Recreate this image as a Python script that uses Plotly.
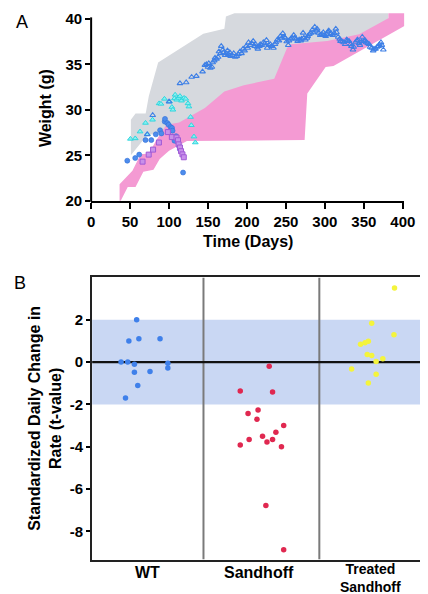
import plotly.graph_objects as go

W, H = 428, 594

# ---------------- Panel A data ----------------
# gray band (WT range) polygon: upper edge then lower edge
gray_upper_days = [51, 51, 57, 70, 74, 86, 144, 171, 173, 184, 381]
gray_upper_g = [25.0, 28.9, 29.6, 29.6, 31.5, 35.2, 38.35, 38.9, 40.25, 40.6, 40.6]
gray_lower_days = [51, 70, 78, 92, 97, 113, 146, 171, 235, 251, 303, 344, 381]
gray_lower_g = [25.0, 27.0, 27.3, 27.4, 28.0, 28.3, 29.8, 31.6, 33.0, 36.4, 37.2, 38.0, 39.8]

# pink band (Sandhoff range) polygon
pink_upper_days = [36.5, 53, 63.6, 74, 84, 90, 96.6, 113, 146, 171, 196, 235, 251.4, 256, 303, 344, 381.4, 381.4, 402]
pink_upper_g = [21.8, 23.3, 25.1, 25.2, 26.7, 27.45, 28.35, 28.6, 30.2, 32.0, 32.7, 33.4, 36.8, 37.2, 37.55, 38.3, 40.07, 40.6, 40.6]
pink_lower_days = [36.5, 38, 47, 57, 67, 80, 88, 100, 123, 274, 277.4, 301, 311, 402]
pink_lower_g = [19.5, 20.0, 21.5, 21.5, 23.2, 23.4, 24.6, 25.5, 26.56, 26.67, 31.8, 34.7, 34.8, 39.2]

# WT open triangles
wt_days = [72, 79, 100, 114, 122, 129, 135, 143,
           146, 148, 150, 151, 153, 155, 156, 158, 159, 161, 163, 164, 166, 167, 169, 170,
           172, 173, 175, 176, 178, 179, 181, 183, 185, 187, 189, 191, 193, 195, 197, 199,
           201, 202, 204, 206, 208, 210, 211, 213, 214, 216, 217, 219, 221, 223, 225, 226,
           228, 230, 232, 234, 236, 237, 239, 241, 243, 245, 246, 248, 249, 251, 253, 254,
           256, 258, 260, 261, 263, 265, 267, 269, 270, 272, 273, 275, 277, 278, 280, 282,
           284, 285, 287, 289, 290, 292, 294, 296, 298, 299, 301, 302, 304, 305, 307, 308,
           310, 312, 314, 315, 317, 319, 320, 322, 324, 326, 328, 329, 331, 333, 334, 336,
           337, 339, 341, 342, 344, 345, 347, 348, 350, 352, 353, 355, 357, 358, 360, 362,
           363, 365, 367, 369, 370, 372, 373, 375]
wt_weight = [27.3, 29.4, 30.9, 32.9, 33.0, 33.6, 33.7, 34.2,
             34.9, 35.0, 34.7, 35.1, 34.6, 34.7, 35.2, 35.4, 35.7, 35.6, 35.8, 36.4, 36.2, 37.0, 36.6, 36.3,
             36.0, 36.2, 36.5, 36.1, 36.3, 35.9, 36.0, 36.2, 35.8, 35.9, 36.1, 36.4, 36.2, 36.7, 36.5, 37.0,
             36.8, 37.4, 37.1, 37.3, 37.55, 37.0, 37.2, 36.9, 36.7, 37.0, 37.2, 37.1, 37.4, 37.3, 37.65, 36.8,
             37.1, 37.2, 37.0, 36.8, 37.2, 37.4, 37.7, 37.6, 38.1, 37.9, 38.4, 38.0, 37.9, 37.5, 37.1, 37.6,
             37.8, 37.9, 38.2, 37.9, 37.8, 37.55, 37.7, 37.6, 37.8, 38.45, 37.9, 37.7, 37.9, 38.1, 38.3, 38.45,
             38.8, 38.5, 39.1, 38.7, 38.9, 38.45, 38.2, 38.3, 38.5, 38.2, 38.1, 38.3, 38.6, 38.7, 38.3, 38.4,
             38.2, 38.4, 38.9, 38.5, 38.0, 37.8, 37.55, 37.5, 37.4, 37.2, 37.7, 37.6, 37.55, 37.2, 37.0, 36.6,
             36.9, 37.4, 37.6, 37.7, 37.3, 37.1, 37.5, 38.0, 37.55, 37.6, 37.4, 37.3, 37.2, 36.9, 36.8, 36.5,
             36.7, 36.7, 36.9, 37.0, 37.2, 37.4, 37.1, 36.6]

# cyan triangles
cy_days = [50.4, 56.6, 62.8, 69.8, 72.2, 78.8, 87.3, 89.6, 94.1, 100.7, 103.6, 104.9, 107, 107.8,
           109.8, 112.3, 114, 116, 119.3, 121.4, 124.3, 125.5, 127.6, 128.6, 132, 133.7]
cy_weight = [26.8, 26.85, 27.6, 28.55, 27.3, 28.9, 30.7, 30.65, 31.2, 30.9, 30.3, 30.0, 31.25, 31.65,
             31.1, 31.3, 31.5, 31.0, 31.3, 31.2, 30.7, 30.35, 29.2, 28.3, 27.05, 26.4]

# blue filled circles
bc_days = [46.4, 56.6, 61.7, 69.8, 77.2, 83, 88.5, 90.2, 94.5, 94.8, 97.8, 99.5, 102, 103.8,
           104.5, 107, 109, 111.5, 113, 114, 118]
bc_weight = [24.4, 24.7, 25.07, 26.67, 26.67, 27.3, 27.75, 27.4, 28.7, 29.0, 28.54, 28.35, 28.1, 28.0,
             27.7, 26.6, 27.1, 26.4, 26.0, 25.65, 23.1]

# purple squares
pu_days = [66, 73.9, 79.5, 87, 98.5, 103.6, 109.6, 111.5, 112.3, 114, 115.4, 117.2, 118.9]
pu_weight = [24.3, 25.07, 25.62, 26.4, 27.55, 27.0, 26.95, 26.65, 26.2, 25.85, 25.45, 25.1, 24.78]

x_ticks_a = [0, 50, 100, 150, 200, 250, 300, 350, 400]
y_ticks_a = [20, 25, 30, 35, 40]

# ---------------- Panel B data ----------------
group_pos = [1, 2, 3]
group_labels = ["WT", "Sandhoff", "Treated<br>Sandhoff"]
wt_x = [0.76, 0.82, 0.80, 0.83, 0.88, 0.88, 0.90, 0.92, 0.91, 1.02, 1.11, 1.18, 1.18]
wt_t = [0.0, 0.0, -1.7, 1.0, -0.1, -0.48, 2.0, 1.1, -1.1, -0.45, 1.1, -0.05, -0.28]
sh_x = [1.83, 2.09, 2.12, 1.90, 1.99, 1.98, 2.22, 2.15, 2.03, 2.12, 1.91, 2.07, 2.20, 1.83, 2.06, 2.22]
sh_t = [-1.36, -0.2, -1.41, -2.43, -2.26, -2.70, -3.0, -3.32, -3.5, -3.66, -3.66, -3.78, -4.0, -3.92, -6.78, -8.87]
tr_x = [3.215, 3.01, 3.21, 2.91, 2.95, 2.98, 2.97, 3.01, 3.05, 3.11, 2.83, 3.05, 2.98]
tr_t = [3.5, 1.83, 1.29, 0.84, 0.91, 0.99, 0.36, 0.31, 0.03, 0.16, -0.33, -0.57, -0.99]
y_ticks_b = [-8, -6, -4, -2, 0, 2]
y_ticktext_b = ["-8", "-6", "-4", "-2", "0", "2"]

FONT = "Liberation Sans, Arial, sans-serif"

fig = go.Figure()

# Panel A bands
fig.add_trace(go.Scatter(
    x=gray_upper_days + gray_lower_days[::-1], y=gray_upper_g + gray_lower_g[::-1],
    fill="toself", fillcolor="#d6d9de", line=dict(width=0), mode="lines",
    hoverinfo="skip", xaxis="x", yaxis="y", showlegend=False))
fig.add_trace(go.Scatter(
    x=pink_upper_days + pink_lower_days[::-1], y=pink_upper_g + pink_lower_g[::-1],
    fill="toself", fillcolor="#f49ad3", line=dict(width=0), mode="lines",
    hoverinfo="skip", xaxis="x", yaxis="y", showlegend=False))

fig.add_trace(go.Scatter(x=cy_days, y=cy_weight, mode="markers", xaxis="x", yaxis="y",
                         marker=dict(symbol="triangle-up", size=5, color="#8af2f2",
                                     line=dict(color="#2fd6de", width=1)), showlegend=False))
fig.add_trace(go.Scatter(x=bc_days, y=bc_weight, mode="markers", xaxis="x", yaxis="y",
                         marker=dict(symbol="circle", size=5, color="#4d8cec",
                                     line=dict(color="#2f6fd8", width=0.6)), showlegend=False))
fig.add_trace(go.Scatter(x=pu_days, y=pu_weight, mode="markers", xaxis="x", yaxis="y",
                         marker=dict(symbol="square", size=5, color="#c890ea",
                                     line=dict(color="#a05ad6", width=1)), showlegend=False))
fig.add_trace(go.Scatter(x=wt_days, y=wt_weight, mode="markers", xaxis="x", yaxis="y",
                         marker=dict(symbol="triangle-up-open", size=5, color="#3d7fe6",
                                     line=dict(color="#3d7fe6", width=1.1)), showlegend=False))

# Panel B points
fig.add_trace(go.Scatter(x=wt_x, y=wt_t, mode="markers", xaxis="x2", yaxis="y2",
                         marker=dict(size=5.5, color="#3f80ea"), showlegend=False))
fig.add_trace(go.Scatter(x=sh_x, y=sh_t, mode="markers", xaxis="x2", yaxis="y2",
                         marker=dict(size=5.5, color="#e02850"), showlegend=False))
fig.add_trace(go.Scatter(x=tr_x, y=tr_t, mode="markers", xaxis="x2", yaxis="y2",
                         marker=dict(size=5.5, color="#f4f43c"), showlegend=False))

def px_x(p):
    return p / W

def px_y(p):
    return 1 - p / H

tickfont = dict(family=FONT, size=15, color="black", weight="bold")

fig.update_layout(
    width=W, height=H, autosize=False,
    margin=dict(l=0, r=0, t=0, b=0),
    paper_bgcolor="white", plot_bgcolor="white",
    font=dict(family=FONT, color="black"),
    xaxis=dict(domain=[px_x(82), px_x(82 + 402 * 0.8075)], range=[0, 402],
               tickvals=x_ticks_a, ticks="outside", ticklen=6, tickwidth=2, tickcolor="black",
               showline=True, linewidth=2, linecolor="black", showgrid=False, zeroline=False,
               tickfont=tickfont, anchor="y"),
    yaxis=dict(domain=[px_y(194), px_y(2.5)], range=[20, 40.7],
               tickvals=y_ticks_a, ticks="outside", ticklen=5, tickwidth=2, tickcolor="black",
               showline=False, showgrid=False, zeroline=False, tickfont=tickfont, anchor="x"),
    xaxis2=dict(domain=[px_x(83), px_x(427)], range=[0.5, 3.48],
                tickvals=group_pos, showticklabels=False, ticks="", showline=True, mirror=True,
                linewidth=2, linecolor="#222", showgrid=False, zeroline=False, anchor="y2"),
    yaxis2=dict(domain=[px_y(559), px_y(272)], range=[-9.33, 4.0],
                tickvals=y_ticks_b, ticktext=y_ticktext_b, ticks="outside", ticklen=4,
                tickwidth=1.5, tickcolor="black", showline=True, mirror=True,
                linewidth=2, linecolor="#222", showgrid=False, zeroline=False,
                tickfont=tickfont, anchor="x2"),
)

shapes = [
    # Panel A left spine
    dict(type="line", xref="paper", yref="paper", x0=px_x(82), x1=px_x(82),
         y0=px_y(195), y1=px_y(7.5), line=dict(color="black", width=2)),
    # Panel B band, separators, zero line
    dict(type="rect", xref="x2", yref="y2", x0=0.5, x1=3.48, y0=-2, y1=2,
         fillcolor="#c9d7f3", line=dict(width=0), layer="below"),
    dict(type="line", xref="x2", yref="y2", x0=1.5, x1=1.5, y0=-9.33, y1=4.0,
         line=dict(color="#7a7a7a", width=2), layer="below"),
    dict(type="line", xref="x2", yref="y2", x0=2.54, x1=2.54, y0=-9.33, y1=4.0,
         line=dict(color="#7a7a7a", width=2), layer="below"),
    dict(type="line", xref="x2", yref="y2", x0=0.5, x1=3.48, y0=0, y1=0,
         line=dict(color="#111", width=2.2), layer="below"),
]
fig.update_layout(shapes=shapes)

title_font = dict(family=FONT, size=16, color="black", weight="bold")
annotations = [
    dict(text="A", x=px_x(2), y=px_y(12.5), xref="paper", yref="paper", xanchor="left",
         yanchor="middle", showarrow=False, font=dict(family=FONT, size=18, color="black")),
    dict(text="B", x=px_x(0), y=px_y(278), xref="paper", yref="paper", xanchor="left",
         yanchor="middle", showarrow=False, font=dict(family=FONT, size=18, color="black")),
    dict(text="Time (Days)", x=px_x(245), y=px_y(235), xref="paper", yref="paper",
         xanchor="center", yanchor="middle", showarrow=False, font=title_font),
    dict(text="Weight (g)", x=px_x(35), y=px_y(100), xref="paper", yref="paper",
         xanchor="center", yanchor="middle", textangle=-90, showarrow=False, font=title_font),
    dict(text="Standardized Daily Change in<br>Rate (t-value)", x=px_x(34), y=px_y(415),
         xref="paper", yref="paper", xanchor="center", yanchor="middle", textangle=-90,
         showarrow=False, font=title_font),
]
# category labels
for pos, label in zip(group_pos, group_labels):
    if "<br>" in label:
        annotations.append(dict(text=label, x=pos, xref="x2", y=px_y(596.5), yref="paper",
                                xanchor="center", yanchor="bottom", borderpad=0, showarrow=False,
                                font=dict(family=FONT, size=14, color="black", weight="bold")))
    else:
        annotations.append(dict(text=label, x=pos, xref="x2", y=px_y(572), yref="paper",
                                xanchor="center", yanchor="middle", showarrow=False,
                                font=title_font))
fig.update_layout(annotations=annotations)

fig.write_html("out.html")
